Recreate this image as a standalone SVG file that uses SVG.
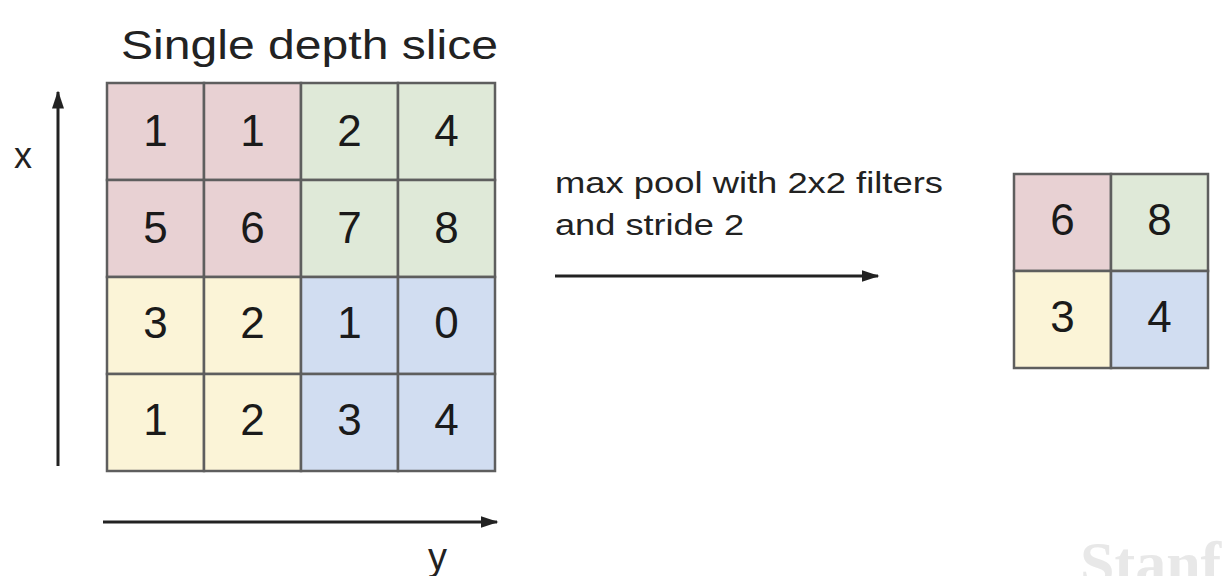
<svg xmlns="http://www.w3.org/2000/svg" width="1232" height="576" viewBox="0 0 1232 576">
<style>
.cell{stroke:#5e5e5e;stroke-width:2.5}
.r{fill:#e8d1d3}.g{fill:#dfe9d8}.yl{fill:#fbf4d7}.b{fill:#d1ddf1}
.num{font-family:"Liberation Sans",Arial,sans-serif;font-size:44px;fill:#1a1a1a;text-anchor:middle}
.lbl{font-family:"Liberation Sans",Arial,sans-serif;fill:#222}
.ln{stroke:#222;stroke-width:3;fill:none}
</style>
<defs>
<marker id="ah" viewBox="0 0 12 8" refX="11" refY="4" markerWidth="6" markerHeight="4" orient="auto" markerUnits="strokeWidth">
<path d="M0,0 L12,4 L0,8 z" fill="#222"/>
</marker>
</defs>
<rect width="1232" height="576" fill="#fff"/>
<text class="lbl" x="121" y="59" font-size="40" textLength="377" lengthAdjust="spacingAndGlyphs">Single depth slice</text>
<g id="input-grid">
<g id="in-r0c0"><rect class="cell r" x="107" y="83" width="97" height="97"/><text class="num" x="155.5" y="146">1</text></g>
<g id="in-r0c1"><rect class="cell r" x="204" y="83" width="97" height="97"/><text class="num" x="252.5" y="146">1</text></g>
<g id="in-r0c2"><rect class="cell g" x="301" y="83" width="97" height="97"/><text class="num" x="349.5" y="146">2</text></g>
<g id="in-r0c3"><rect class="cell g" x="398" y="83" width="97" height="97"/><text class="num" x="446.5" y="146">4</text></g>
<g id="in-r1c0"><rect class="cell r" x="107" y="180" width="97" height="97"/><text class="num" x="155.5" y="243">5</text></g>
<g id="in-r1c1"><rect class="cell r" x="204" y="180" width="97" height="97"/><text class="num" x="252.5" y="243">6</text></g>
<g id="in-r1c2"><rect class="cell g" x="301" y="180" width="97" height="97"/><text class="num" x="349.5" y="243">7</text></g>
<g id="in-r1c3"><rect class="cell g" x="398" y="180" width="97" height="97"/><text class="num" x="446.5" y="243">8</text></g>
<g id="in-r2c0"><rect class="cell yl" x="107" y="277" width="97" height="97"/><text class="num" x="155.5" y="338">3</text></g>
<g id="in-r2c1"><rect class="cell yl" x="204" y="277" width="97" height="97"/><text class="num" x="252.5" y="338">2</text></g>
<g id="in-r2c2"><rect class="cell b" x="301" y="277" width="97" height="97"/><text class="num" x="349.5" y="338">1</text></g>
<g id="in-r2c3"><rect class="cell b" x="398" y="277" width="97" height="97"/><text class="num" x="446.5" y="338">0</text></g>
<g id="in-r3c0"><rect class="cell yl" x="107" y="374" width="97" height="97"/><text class="num" x="155.5" y="435">1</text></g>
<g id="in-r3c1"><rect class="cell yl" x="204" y="374" width="97" height="97"/><text class="num" x="252.5" y="435">2</text></g>
<g id="in-r3c2"><rect class="cell b" x="301" y="374" width="97" height="97"/><text class="num" x="349.5" y="435">3</text></g>
<g id="in-r3c3"><rect class="cell b" x="398" y="374" width="97" height="97"/><text class="num" x="446.5" y="435">4</text></g>
</g>
<g id="output-grid">
<g id="out-r0c0"><rect class="cell r" x="1014" y="174" width="97" height="97"/><text class="num" x="1062.5" y="235">6</text></g>
<g id="out-r0c1"><rect class="cell g" x="1111" y="174" width="97" height="97"/><text class="num" x="1159.5" y="235">8</text></g>
<g id="out-r1c0"><rect class="cell yl" x="1014" y="271" width="97" height="97"/><text class="num" x="1062.5" y="332">3</text></g>
<g id="out-r1c1"><rect class="cell b" x="1111" y="271" width="97" height="97"/><text class="num" x="1159.5" y="332">4</text></g>
</g>
<g id="connectors">
<line class="ln" x1="58" y1="466" x2="58" y2="92" marker-end="url(#ah)"/>
<line class="ln" x1="103" y1="522" x2="497" y2="522" marker-end="url(#ah)"/>
<line class="ln" x1="555" y1="276" x2="878" y2="276" marker-end="url(#ah)"/>
</g>
<text class="lbl" x="14" y="168" font-size="36">x</text>
<text class="lbl" x="428" y="570" font-size="38">y</text>
<text class="lbl" x="555" y="193" font-size="29" textLength="388" lengthAdjust="spacingAndGlyphs">max pool with 2x2 filters</text>
<text class="lbl" x="555" y="235" font-size="29" textLength="189" lengthAdjust="spacingAndGlyphs">and stride 2</text>
<text x="1080" y="584" font-family="Liberation Serif,serif" font-weight="bold" font-size="62" fill="#e8e8e8">Stanf</text>
</svg>
